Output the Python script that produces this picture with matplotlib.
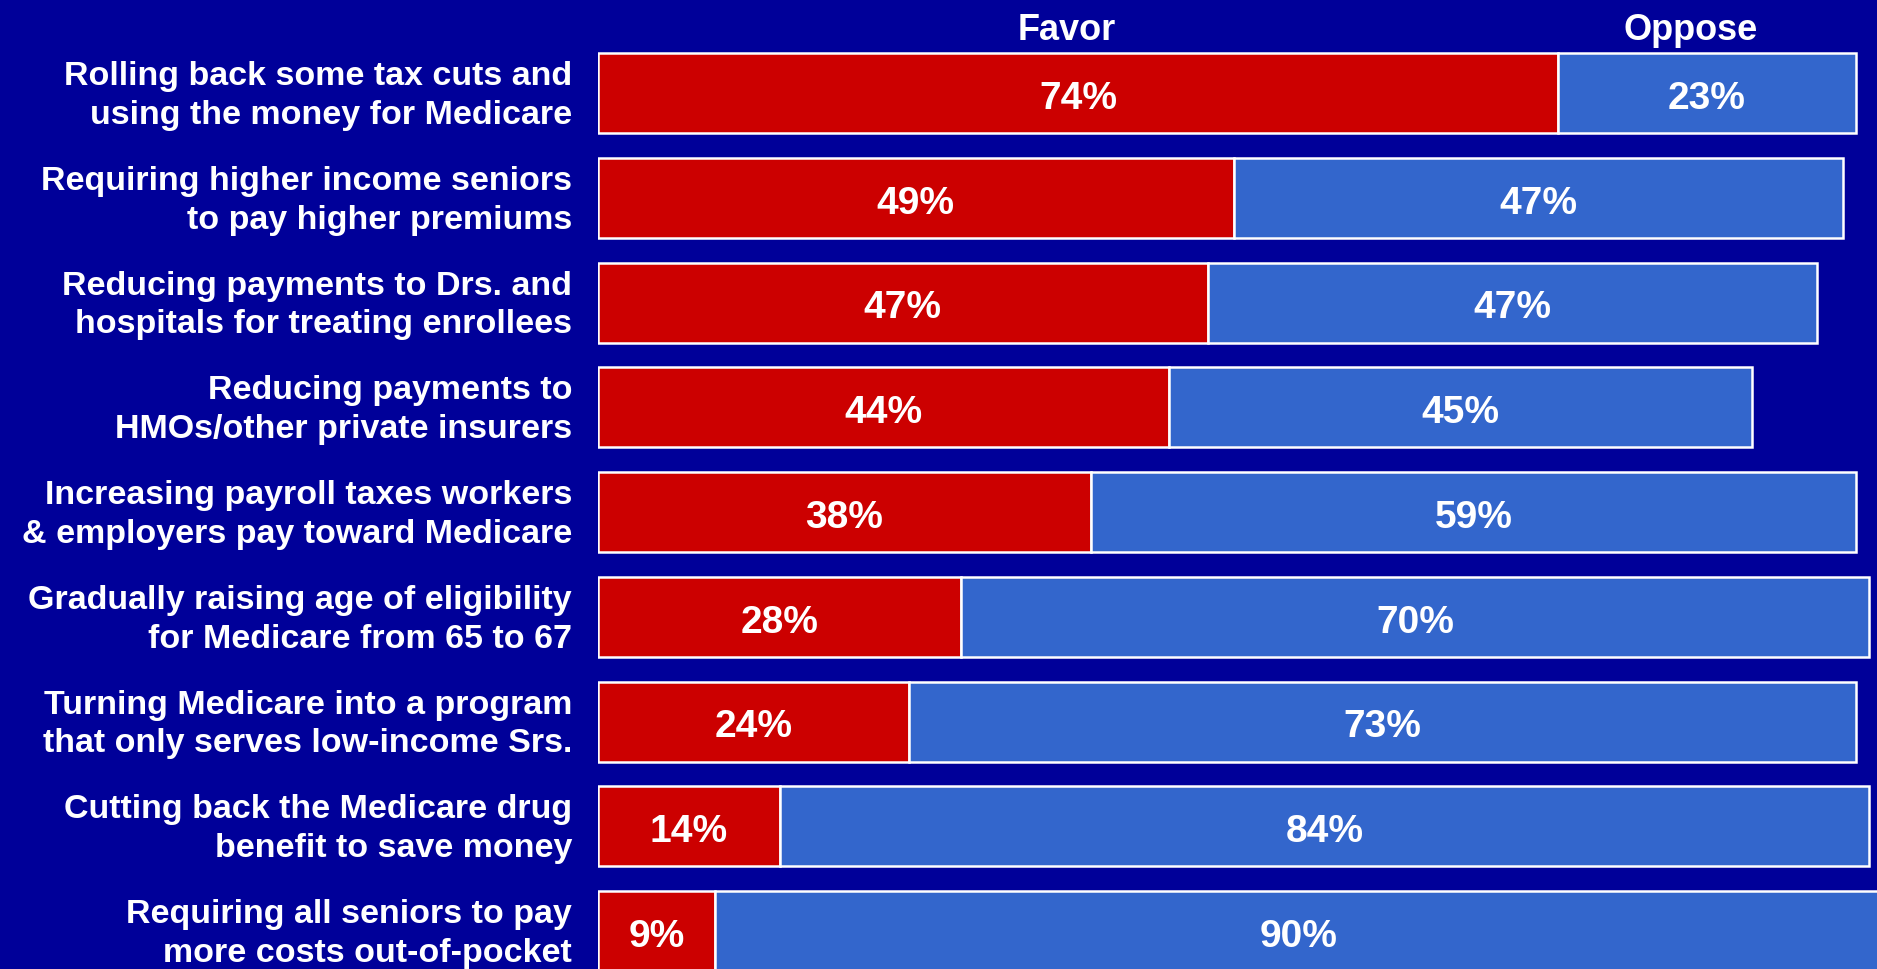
import matplotlib
matplotlib.use("Agg")
import matplotlib.pyplot as plt

categories = [
    "Rolling back some tax cuts and\nusing the money for Medicare",
    "Requiring higher income seniors\nto pay higher premiums",
    "Reducing payments to Drs. and\nhospitals for treating enrollees",
    "Reducing payments to\nHMOs/other private insurers",
    "Increasing payroll taxes workers\n& employers pay toward Medicare",
    "Gradually raising age of eligibility\nfor Medicare from 65 to 67",
    "Turning Medicare into a program\nthat only serves low-income Srs.",
    "Cutting back the Medicare drug\nbenefit to save money",
    "Requiring all seniors to pay\nmore costs out-of-pocket",
]
favor = [74, 49, 47, 44, 38, 28, 24, 14, 9]
oppose = [23, 47, 47, 45, 59, 70, 73, 84, 90]
series_names = ["Favor", "Oppose"]

BG = "#000099"
RED = "#CC0000"
BLUE = "#3366CC"
FONT = ["Liberation Sans", "DejaVu Sans"]

W, H = 1877, 970
fig = plt.figure(figsize=(W / 100, H / 100), dpi=100, facecolor=BG)

left_px = 598
px_per_pct = 12.97
ax_w_px = 100 * px_per_pct
ax = fig.add_axes([left_px / W, 0, ax_w_px / W, 1])
ax.set_facecolor(BG)
ax.set_xlim(0, 100)

pitch = 104.75
first_center = 94
ax.set_ylim((H - first_center) / pitch, -first_center / pitch)

ypos = list(range(len(categories)))
bh = 80 / pitch
ax.barh(ypos, favor, height=bh, color=RED, edgecolor="white", linewidth=1.8)
ax.barh(ypos, oppose, left=favor, height=bh, color=BLUE, edgecolor="white", linewidth=1.8)

dy = 5 / pitch
for y, f, o in zip(ypos, favor, oppose):
    ax.text(f / 2, y + dy, f"{f}%", ha="center", va="center", color="white",
            fontsize=28, fontweight="bold", family=FONT)
    ax.text(f + o / 2, y + dy, f"{o}%", ha="center", va="center", color="white",
            fontsize=28, fontweight="bold", family=FONT)

for y, c in zip(ypos, categories):
    fig.text(572 / W, 1 - (first_center + 2 + y * pitch) / H, c, ha="right", va="center",
             color="white", fontsize=24.5, fontweight="bold", family=FONT,
             linespacing=1.32)

fig.text(1067 / W, 1 - 30 / H, series_names[0], ha="center", va="center", color="white",
         fontsize=26, fontweight="bold", family=FONT)
fig.text(1691 / W, 1 - 30 / H, series_names[1], ha="center", va="center", color="white",
         fontsize=26, fontweight="bold", family=FONT)

ax.axis("off")
fig.savefig("out.png", dpi=100, facecolor=BG)
